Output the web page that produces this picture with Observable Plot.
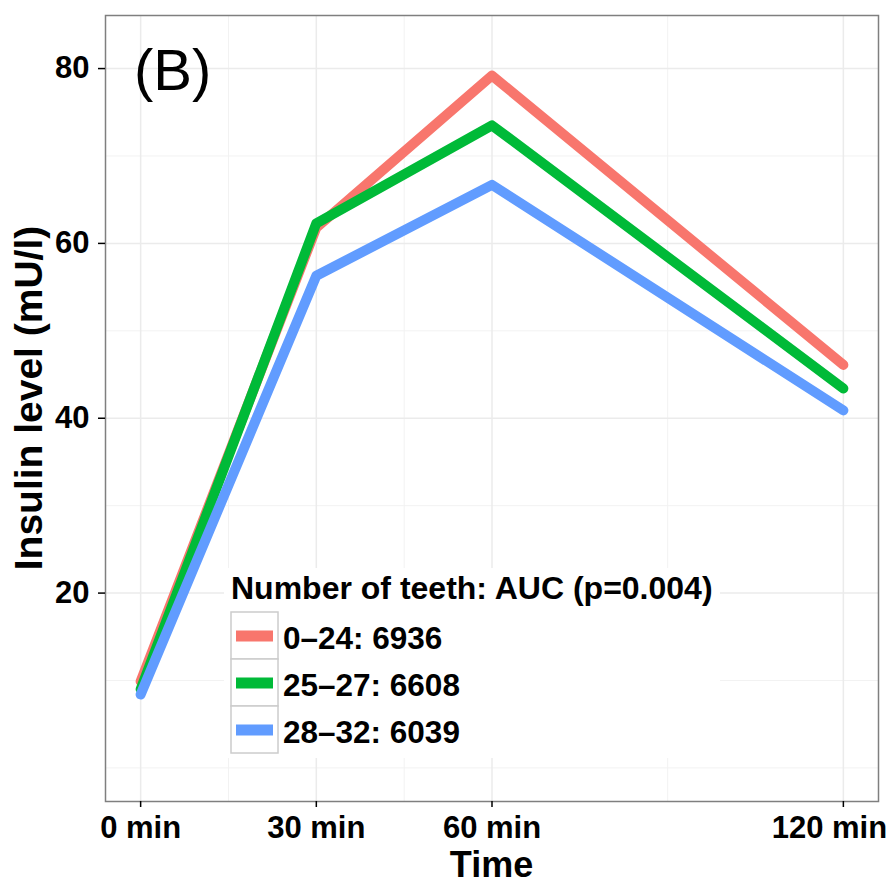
<!DOCTYPE html>
<html><head><meta charset="utf-8">
<script src="https://cdn.jsdelivr.net/npm/d3@7"></script>
<script src="https://cdn.jsdelivr.net/npm/@observablehq/plot@0.6"></script>
<style>body{margin:0;background:#fff} #chart{width:892px;height:884px}</style>
</head><body><div id="chart"></div>
<script>
const times = [0, 30, 60, 120];
const groups = ["0–24: 6936", "25–27: 6608", "28–32: 6039"];
const colors = ["#F8766D", "#00BA38", "#619CFF"];
const insulin_0_24 = [9.9, 61.8, 79.2, 46.1];
const insulin_25_27 = [9.0, 62.3, 73.5, 43.4];
const insulin_28_32 = [8.4, 56.3, 66.7, 40.9];
const yTicks = [20, 40, 60, 80];
const yMinor = [0, 10, 30, 50, 70];
const xTicks = [0, 30, 60, 120];
const xMinor = [15, 45, 90];
const xTickLabels = ["0 min", "30 min", "60 min", "120 min"];
const legendTitle = "Number of teeth: AUC (p=0.004)";
const xTitle = "Time";
const yTitle = "Insulin level (mU/l)";
const panelTag = "(B)";

const series = [insulin_0_24, insulin_25_27, insulin_28_32];
const data = [];
series.forEach((arr, i) => arr.forEach((v, j) => data.push({group: groups[i], time: times[j], insulin: v})));

const FONT = "'Liberation Sans', Arial, Helvetica, sans-serif";
const W = 892, H = 884, ML = 105, MR = 14, MT = 15, MB = 83;
const fmt = (d) => xTickLabels[xTicks.indexOf(d)];
const lastTick = xTicks[xTicks.length - 1];

const plot = Plot.plot({
  width: W, height: H,
  marginLeft: ML, marginRight: MR, marginTop: MT, marginBottom: MB,
  style: {fontFamily: FONT, background: "#fff", color: "black", overflow: "visible"},
  x: {domain: [-6, 126]},
  y: {domain: [-3.84, 86.07]},
  color: {domain: groups, range: colors},
  marks: [
    Plot.gridY(yMinor, {stroke: "#f2f2f2", strokeOpacity: 1, strokeWidth: 1}),
    Plot.gridX(xMinor, {stroke: "#f2f2f2", strokeOpacity: 1, strokeWidth: 1}),
    Plot.gridY(yTicks, {stroke: "#ebebeb", strokeOpacity: 1, strokeWidth: 1.5}),
    Plot.gridX(xTicks, {stroke: "#ebebeb", strokeOpacity: 1, strokeWidth: 1.5}),
    Plot.line(data, {x: "time", y: "insulin", z: "group", stroke: "group", strokeWidth: 10,
      strokeLinecap: "round", strokeLinejoin: "round"}),
    Plot.frame({stroke: "#7f7f7f", strokeWidth: 1.5}),
    Plot.axisX(xTicks, {tickFormat: (d) => d === lastTick ? "" : fmt(d), tickSize: 6, tickPadding: 8,
      fontSize: 31, fontWeight: "bold", label: null, color: "black", strokeWidth: 1.5}),
    Plot.axisX([lastTick], {tickFormat: fmt, tickSize: 0, tickPadding: 14, dx: -14,
      fontSize: 31, fontWeight: "bold", label: null, color: "black"}),
    Plot.axisY(yTicks, {tickSize: 7, tickPadding: 9, fontSize: 31, fontWeight: "bold",
      label: null, color: "black", strokeWidth: 1.5})
  ]
});
document.getElementById("chart").appendChild(plot);

const svg = d3.select(plot);

// axis titles
svg.append("text").attr("x", (ML + W - MR) / 2).attr("y", 877)
  .attr("text-anchor", "middle").attr("font-family", FONT).attr("font-weight", "bold")
  .attr("font-size", 36).attr("fill", "black").text(xTitle);
svg.append("text").attr("transform", `translate(42,${(MT + H - MB) / 2 - 10}) rotate(-90)`)
  .attr("text-anchor", "middle").attr("font-family", FONT).attr("font-weight", "bold")
  .attr("font-size", 39).attr("fill", "black").text(yTitle);

// panel tag
svg.append("text").attr("x", 134).attr("y", 90).attr("text-anchor", "start")
  .attr("font-family", FONT).attr("font-size", 58).attr("fill", "black").text(panelTag);

// legend
const lg = svg.append("g").attr("text-anchor", "start");
lg.append("rect").attr("x", 224).attr("y", 568).attr("width", 496).attr("height", 190).attr("fill", "white");
lg.append("text").attr("x", 231).attr("y", 599).attr("font-family", FONT).attr("font-weight", "bold")
  .attr("font-size", 32).attr("fill", "black").text(legendTitle);
groups.forEach((g, i) => {
  const y0 = 612 + 47 * i;
  lg.append("rect").attr("x", 231).attr("y", y0).attr("width", 47).attr("height", 47)
    .attr("fill", "white").attr("stroke", "#cccccc").attr("stroke-width", 1.5);
  lg.append("line").attr("x1", 236).attr("x2", 273).attr("y1", y0 + 24).attr("y2", y0 + 24)
    .attr("stroke", colors[i]).attr("stroke-width", 11);
  lg.append("text").attr("x", 283).attr("y", y0 + 37).attr("font-family", FONT).attr("font-weight", "bold")
    .attr("font-size", 31.5).attr("fill", "black").text(g);
});
</script>
</body></html>
